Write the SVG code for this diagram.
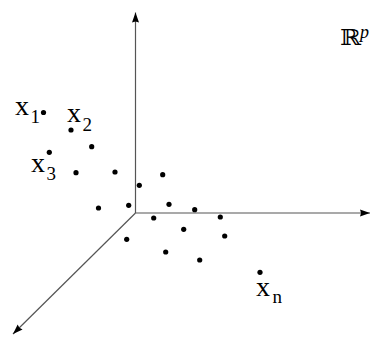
<svg xmlns="http://www.w3.org/2000/svg" width="374" height="358" viewBox="0 0 374 358">
<style>
.axis{stroke:#555;stroke-width:1.2;fill:none}
.pt{fill:#000}
.lbl{font-family:"Liberation Serif","Times New Roman",serif;font-size:28px;fill:#000}
.sub{font-size:19px}
.rp{font-family:"DejaVu Serif","DejaVu Sans",serif;font-size:22px;fill:#000}
.pp{font-family:"Liberation Serif","Times New Roman",serif;font-style:italic;font-size:18px;fill:#000}
</style>
<defs>
<marker id="arr" markerUnits="userSpaceOnUse" markerWidth="12" markerHeight="10" refX="10" refY="4" orient="auto">
<path d="M0,0.5 L10,4 L0,7.5 L1,4 z" fill="#000"/>
</marker>
</defs>
<g id="connectors">
<line class="axis" x1="135.5" y1="213" x2="135.5" y2="12.5" marker-end="url(#arr)"/>
<line class="axis" x1="135.5" y1="213" x2="370" y2="213" marker-end="url(#arr)"/>
<line class="axis" x1="135.5" y1="213" x2="13" y2="334" marker-end="url(#arr)"/>
</g>
<g id="points">
<circle class="pt" cx="43.5" cy="112.5" r="2.6"/>
<circle class="pt" cx="71" cy="130" r="2.6"/>
<circle class="pt" cx="91.7" cy="146.7" r="2.6"/>
<circle class="pt" cx="49.3" cy="152.3" r="2.6"/>
<circle class="pt" cx="76" cy="172.7" r="2.6"/>
<circle class="pt" cx="115" cy="172" r="2.6"/>
<circle class="pt" cx="162.7" cy="174.7" r="2.6"/>
<circle class="pt" cx="139.3" cy="185.3" r="2.6"/>
<circle class="pt" cx="98.5" cy="208" r="2.6"/>
<circle class="pt" cx="128.7" cy="205.3" r="2.6"/>
<circle class="pt" cx="169" cy="204.3" r="2.6"/>
<circle class="pt" cx="194.7" cy="209.7" r="2.6"/>
<circle class="pt" cx="153.7" cy="218" r="2.6"/>
<circle class="pt" cx="220.3" cy="217" r="2.6"/>
<circle class="pt" cx="183.7" cy="229.3" r="2.6"/>
<circle class="pt" cx="224.7" cy="236" r="2.6"/>
<circle class="pt" cx="126.7" cy="239.3" r="2.6"/>
<circle class="pt" cx="165.7" cy="252" r="2.6"/>
<circle class="pt" cx="199.7" cy="260" r="2.6"/>
<circle class="pt" cx="260" cy="272.3" r="2.6"/>
</g>
<g id="labels">
<text class="lbl" x="15" y="115">x<tspan class="sub" x="30.5" y="122.5">1</tspan></text>
<text class="lbl" x="67" y="122.3">x<tspan class="sub" x="82.5" y="130.7">2</tspan></text>
<text class="lbl" x="31" y="171.7">x<tspan class="sub" x="46.5" y="180">3</tspan></text>
<text class="lbl" x="256" y="295.7">x<tspan class="sub" x="272.5" y="303.3">n</tspan></text>
<text class="rp" transform="translate(340,45) scale(1.15,1)">ℝ</text>
<text class="pp" x="360" y="38">p</text>
</g>
</svg>
